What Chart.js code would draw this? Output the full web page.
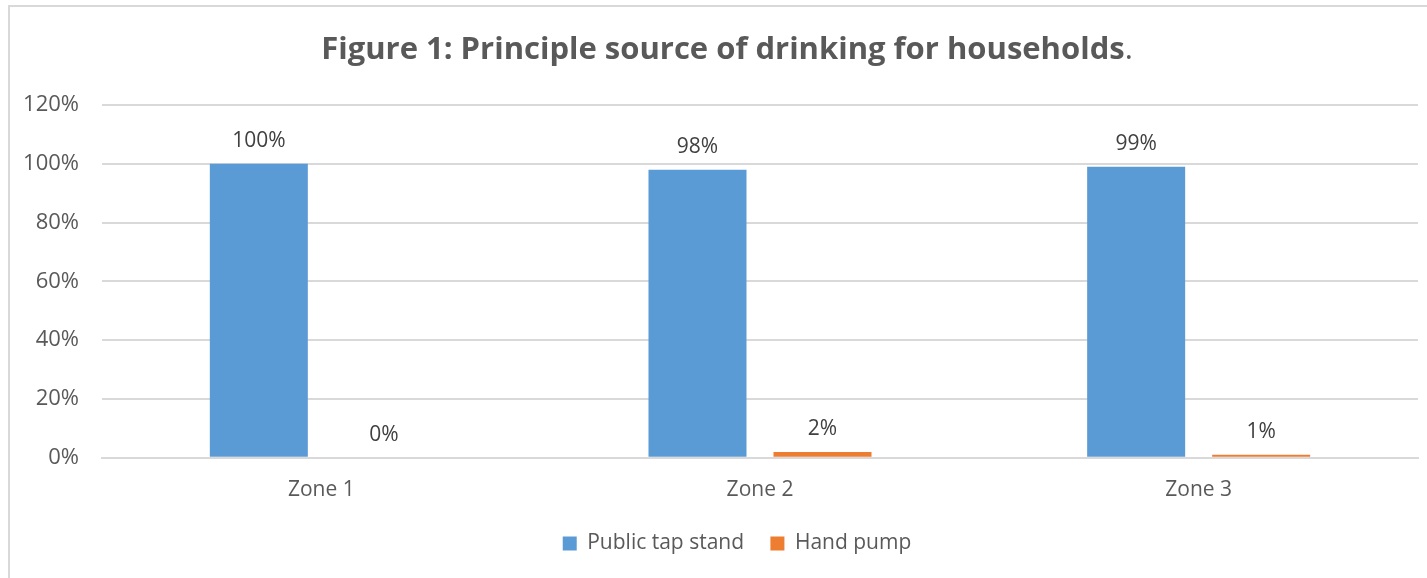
<!DOCTYPE html>
<html>
<head>
<meta charset="utf-8">
<script src="https://cdn.jsdelivr.net/npm/chart.js@4/dist/chart.umd.min.js"></script>
<style>
    html, body { margin: 0; padding: 0; background: #fff; }
    #wrap { position: relative; width: 1427px; height: 578px; }
    #frame { position: absolute; left: 8px; top: 5px; right: 0; bottom: 0;
             border-top: 2px solid #d9d9d9; border-left: 2px solid #d9d9d9; pointer-events: none; }
    #chart { position: absolute; left: 0; top: 0; }
</style>
</head>
<body>
<div id="wrap">
    <canvas id="chart" width="1427" height="578"></canvas>
    <div id="frame"></div>
</div>
<script>
const titleText = "Figure 1: Principle source of drinking for households";
const zones = ["Zone 1", "Zone 2", "Zone 3"];
const publicTapStand = [100, 98, 99];
const handPump = [0, 2, 1];
const yTicks = [0, 20, 40, 60, 80, 100, 120];

const textColor = "#595959";
const fontFamily = "'Open Sans', sans-serif";

/** 제목 (굵은 글씨 + 일반 마침표) **/
const titlePlugin = {
    id: "mixedTitle",
    afterDraw(chart) {
        const ctx = chart.ctx;
        const bold = "bold 31px " + fontFamily;
        const normal = "31px " + fontFamily;
        ctx.save();
        ctx.font = bold;
        const w1 = ctx.measureText(titleText).width;
        ctx.font = normal;
        const w2 = ctx.measureText(".").width;
        const x0 = 727 - (w1 + w2) / 2;
        ctx.fillStyle = textColor;
        ctx.textBaseline = "middle";
        ctx.textAlign = "left";
        ctx.font = bold;
        ctx.fillText(titleText, x0, 50);
        ctx.font = normal;
        ctx.fillText(".", x0 + w1, 50);
        ctx.restore();
    }
};

/** 막대 위 값 표시 **/
const valueLabelPlugin = {
    id: "valueLabels",
    afterDatasetsDraw(chart) {
        const ctx = chart.ctx;
        ctx.save();
        ctx.font = "21px " + fontFamily;
        ctx.fillStyle = "#404040";
        ctx.textAlign = "center";
        ctx.textBaseline = "middle";
        chart.data.datasets.forEach((ds, i) => {
            chart.getDatasetMeta(i).data.forEach((bar, j) => {
                ctx.fillText(ds.data[j] + "%", bar.x, bar.y - 23);
            });
        });
        ctx.restore();
    }
};

/** 범례를 플롯 중앙 쪽으로 이동 **/
const legendShiftPlugin = {
    id: "legendShift",
    afterLayout(chart) {
        chart.legend.left += 28;
        chart.legend.right += 28;
    }
};

new Chart(document.getElementById("chart"), {
    type: "bar",
    data: {
        labels: zones,
        datasets: [
            { label: "Public tap stand", data: publicTapStand, backgroundColor: "#5B9BD5" },
            { label: "Hand pump", data: handPump, backgroundColor: "#ED7D31" }
        ]
    },
    options: {
        responsive: false,
        animation: false,
        devicePixelRatio: 1,
        categoryPercentage: 0.57,
        barPercentage: 0.784,
        layout: { padding: { top: 105, right: 9, left: 0, bottom: 14 } },
        scales: {
            x: {
                grid: { display: false, drawTicks: false },
                border: { display: true, color: "#d9d9d9", width: 2 },
                ticks: { color: textColor, font: { family: fontFamily, size: 21 }, padding: 20 }
            },
            y: {
                min: 0,
                max: 120,
                afterFit: function (scale) { scale.width = 102; },
                afterBuildTicks: function (scale) { scale.ticks = yTicks.map(v => ({ value: v })); },
                grid: { color: "#d9d9d9", lineWidth: 2, drawTicks: false },
                border: { display: false },
                ticks: {
                    color: textColor,
                    font: { family: fontFamily, size: 22 },
                    padding: 23,
                    callback: function (v) { return v + "%"; }
                }
            }
        },
        plugins: {
            title: { display: false },
            tooltip: { enabled: false },
            legend: {
                position: "bottom",
                labels: {
                    color: textColor,
                    font: { family: fontFamily, size: 21 },
                    boxWidth: 14,
                    boxHeight: 14,
                    padding: 10,
                    generateLabels: function (chart) {
                        const items = Chart.defaults.plugins.legend.labels.generateLabels(chart);
                        items[0].text += "   ";
                        return items;
                    }
                }
            }
        }
    },
    plugins: [titlePlugin, valueLabelPlugin, legendShiftPlugin]
});
</script>
</body>
</html>
